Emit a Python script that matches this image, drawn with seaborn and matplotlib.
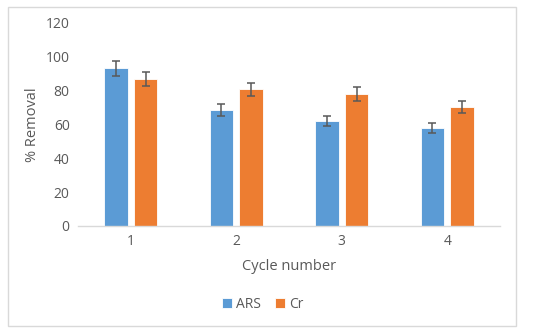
import pandas as pd
import matplotlib.pyplot as plt
import seaborn as sns
from matplotlib.patches import Rectangle

# data
cycles = ['1', '2', '3', '4']
ars_removal = [93.0, 68.6, 62.0, 58.0]
cr_removal = [86.7, 80.6, 77.9, 70.0]
ars_err = [4.65, 3.4, 3.1, 2.9]
cr_err = [4.3, 4.0, 3.9, 3.5]

series_names = ['ARS', 'Cr']
colors = ['#5B9BD5', '#ED7D31']
text_gray = '#595959'

df = pd.DataFrame({
    'cycle': cycles * 2,
    'removal': ars_removal + cr_removal,
    'err': ars_err + cr_err,
    'series': ['ARS'] * 4 + ['Cr'] * 4,
})

sns.set_style('white')
plt.rcParams['font.family'] = ['Open Sans', 'DejaVu Sans']

fig = plt.figure(figsize=(5.5, 3.36), dpi=100)
ax = fig.add_axes([0.1418, 0.3274, 0.7673, 0.605])

sns.barplot(data=df, x='cycle', y='removal', hue='series',
            hue_order=series_names, palette=colors, saturation=1,
            width=0.56, gap=0.21, errorbar=None, edgecolor='white',
            linewidth=0.6, ax=ax)

# error bars at the centres of the drawn bars
bars = [p for p in ax.patches if p.get_height() > 0]
bars = sorted(bars, key=lambda p: p.get_x())
centers = [p.get_x() + p.get_width() / 2 for p in bars]
heights = [p.get_height() for p in bars]
errs = []
for h in heights:
    if h in ars_removal:
        errs.append(ars_err[ars_removal.index(h)])
    else:
        errs.append(cr_err[cr_removal.index(h)])
ax.errorbar(centers, heights, yerr=errs, fmt='none', ecolor=text_gray,
            elinewidth=1.1, capsize=3.2, capthick=1.1)

ax.set_ylim(0, 120)
ax.set_yticks(range(0, 121, 20))
ax.set_xlim(-0.5, 3.5)
ax.set_xlabel('Cycle number', fontsize=10.5, color=text_gray, labelpad=7)
ax.set_ylabel('% Removal', fontsize=10.5, color=text_gray, labelpad=4)
ax.tick_params(axis='both', length=0, labelsize=10, colors=text_gray, pad=6)

for side in ['top', 'right', 'left']:
    ax.spines[side].set_visible(False)
ax.spines['bottom'].set_color('#D9D9D9')
ax.spines['bottom'].set_linewidth(1)

ax.legend_.remove()
handles, labels = ax.get_legend_handles_labels()
fig.legend(handles, labels, loc='center', bbox_to_anchor=(0.478, 0.095),
           ncol=2, frameon=False, fontsize=10, labelcolor=text_gray,
           handlelength=0.7, handleheight=0.7, handletextpad=0.3,
           columnspacing=1.0)

# light grey frame around the whole chart
fig.patches.append(Rectangle((8 / 550, 1 - 326 / 336), 508 / 550, 319 / 336,
                             transform=fig.transFigure, fill=False,
                             edgecolor='#D9D9D9', linewidth=1))

fig.savefig('out.png', dpi=100)
